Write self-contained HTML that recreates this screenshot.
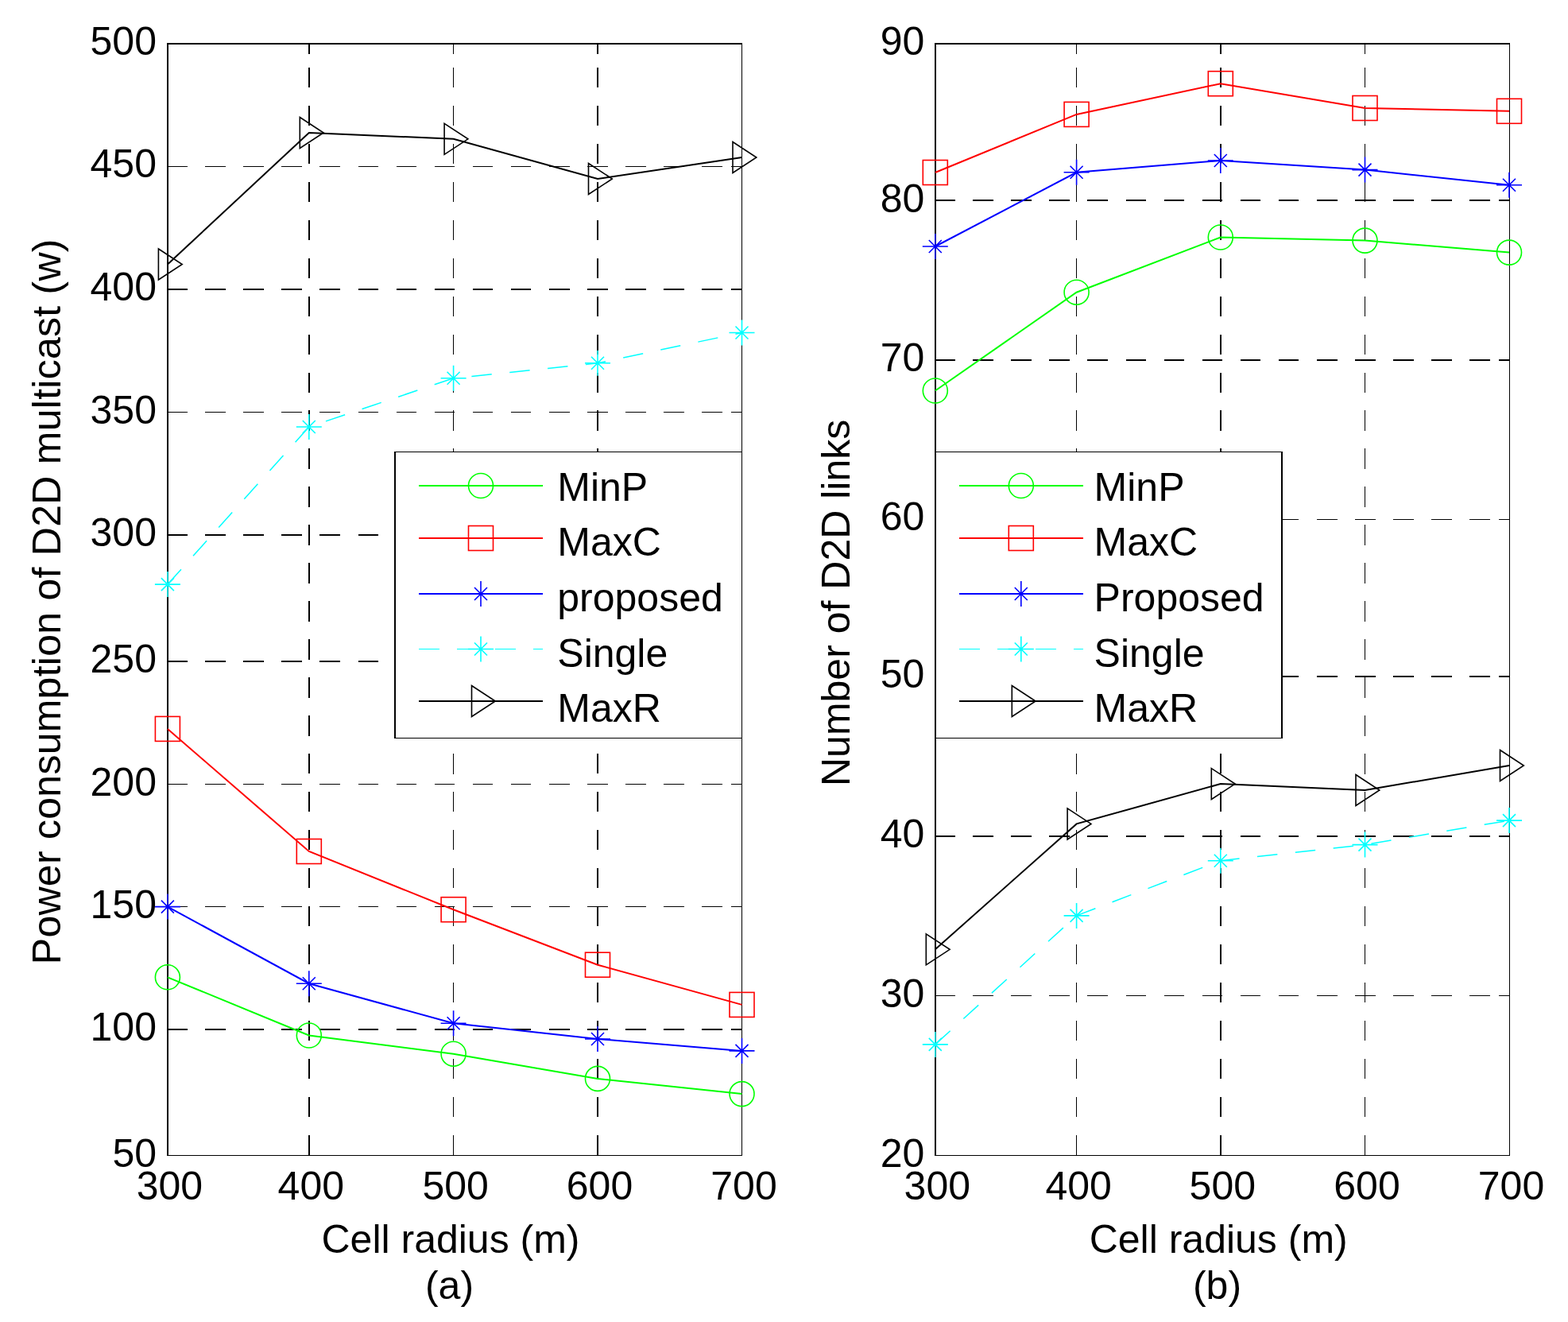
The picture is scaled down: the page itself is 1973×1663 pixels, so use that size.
<!DOCTYPE html>
<html><head><meta charset="utf-8"><title>D2D multicast figure</title>
<style>html,body{margin:0;padding:0;background:#fff;overflow:hidden;}svg{display:block;}</style>
</head><body>
<svg width="1973" height="1663" viewBox="0 0 1973 1663" font-family='"Liberation Sans", Arial, Helvetica, sans-serif' font-size="50" fill="#000">
<rect width="1973" height="1663" fill="#fff"/>
<g stroke="#000" stroke-dasharray="25.5 22.6" fill="none" shape-rendering="crispEdges"><line x1="210" y1="1295" x2="934" y2="1295" stroke-width="2"/><line x1="210" y1="1140.5" x2="934" y2="1140.5" stroke-width="1"/><line x1="210" y1="986.5" x2="934" y2="986.5" stroke-width="1"/><line x1="210" y1="832" x2="934" y2="832" stroke-width="2"/><line x1="210" y1="673" x2="934" y2="673" stroke-width="2"/><line x1="210" y1="518.5" x2="934" y2="518.5" stroke-width="1"/><line x1="210" y1="364" x2="934" y2="364" stroke-width="2"/><line x1="210" y1="209.5" x2="934" y2="209.5" stroke-width="1"/></g>
<g stroke="#000" stroke-dasharray="25.2 22.78" fill="none" shape-rendering="crispEdges"><line x1="389" y1="1453.3" x2="389" y2="54" stroke-width="2"/><line x1="570.5" y1="1453.3" x2="570.5" y2="54" stroke-width="1"/><line x1="752" y1="1453.3" x2="752" y2="54" stroke-width="2"/></g>
<g stroke="#000" fill="none" shape-rendering="crispEdges"><line x1="934" y1="1295" x2="920" y2="1295" stroke-width="2"/><line x1="934" y1="1140.5" x2="920" y2="1140.5" stroke-width="1"/><line x1="934" y1="986.5" x2="920" y2="986.5" stroke-width="1"/><line x1="934" y1="832" x2="920" y2="832" stroke-width="2"/><line x1="934" y1="673" x2="920" y2="673" stroke-width="2"/><line x1="934" y1="518.5" x2="920" y2="518.5" stroke-width="1"/><line x1="934" y1="364" x2="920" y2="364" stroke-width="2"/><line x1="934" y1="209.5" x2="920" y2="209.5" stroke-width="1"/><line x1="389" y1="54" x2="389" y2="68" stroke-width="2"/><line x1="570.5" y1="54" x2="570.5" y2="68" stroke-width="1"/><line x1="752" y1="54" x2="752" y2="68" stroke-width="2"/></g>
<g stroke="#000" fill="none" shape-rendering="crispEdges"><line x1="211" y1="54" x2="211" y2="1454" stroke-width="2"/><line x1="933.5" y1="54" x2="933.5" y2="1454" stroke-width="1"/><line x1="210" y1="55" x2="934" y2="55" stroke-width="2"/><line x1="210" y1="1453.5" x2="934" y2="1453.5" stroke-width="1"/></g>
<polyline points="210.9,1229.3 388.8,1302.5 570.6,1325.7 752,1356.9 933.5,1376.1" fill="none" stroke="#00ff00" stroke-width="2.0"/>
<circle cx="210.9" cy="1229.3" r="15.5" fill="none" stroke="#00ff00" stroke-width="1.6"/>
<circle cx="388.8" cy="1302.5" r="15.5" fill="none" stroke="#00ff00" stroke-width="1.6"/>
<circle cx="570.6" cy="1325.7" r="15.5" fill="none" stroke="#00ff00" stroke-width="1.6"/>
<circle cx="752" cy="1356.9" r="15.5" fill="none" stroke="#00ff00" stroke-width="1.6"/>
<circle cx="933.5" cy="1376.1" r="15.5" fill="none" stroke="#00ff00" stroke-width="1.6"/>
<polyline points="210.9,916.9 388.8,1071 570.6,1144.2 752,1213.7 933.5,1263.9" fill="none" stroke="#ff0000" stroke-width="2.0"/>
<rect x="195.4" y="901.4" width="31" height="31" fill="none" stroke="#ff0000" stroke-width="1.6"/>
<rect x="373.3" y="1055.5" width="31" height="31" fill="none" stroke="#ff0000" stroke-width="1.6"/>
<rect x="555.1" y="1128.7" width="31" height="31" fill="none" stroke="#ff0000" stroke-width="1.6"/>
<rect x="736.5" y="1198.2" width="31" height="31" fill="none" stroke="#ff0000" stroke-width="1.6"/>
<rect x="918" y="1248.4" width="31" height="31" fill="none" stroke="#ff0000" stroke-width="1.6"/>
<polyline points="210.9,1140.6 388.8,1237.2 570.6,1287.3 752,1307 933.5,1321.9" fill="none" stroke="#0000ff" stroke-width="2.0"/>
<path d="M210.9 1124.6V1156.6M194.9 1140.6H226.9M202.9 1132.6L218.9 1148.6M202.9 1148.6L218.9 1132.6" fill="none" stroke="#0000ff" stroke-width="1.6"/>
<path d="M388.8 1221.2V1253.2M372.8 1237.2H404.8M380.8 1229.2L396.8 1245.2M380.8 1245.2L396.8 1229.2" fill="none" stroke="#0000ff" stroke-width="1.6"/>
<path d="M570.6 1271.3V1303.3M554.6 1287.3H586.6M562.6 1279.3L578.6 1295.3M562.6 1295.3L578.6 1279.3" fill="none" stroke="#0000ff" stroke-width="1.6"/>
<path d="M752 1291V1323M736 1307H768M744 1299L760 1315M744 1315L760 1299" fill="none" stroke="#0000ff" stroke-width="1.6"/>
<path d="M933.5 1305.9V1337.9M917.5 1321.9H949.5M925.5 1313.9L941.5 1329.9M925.5 1329.9L941.5 1313.9" fill="none" stroke="#0000ff" stroke-width="1.6"/>
<polyline points="210.9,735.1 388.8,537 570.6,475.8 752,456.8 933.5,418.5" fill="none" stroke="#00ffff" stroke-width="1.5" stroke-dasharray="25.5 22.6"/>
<path d="M210.9 719.1V751.1M194.9 735.1H226.9M202.9 727.1L218.9 743.1M202.9 743.1L218.9 727.1" fill="none" stroke="#00ffff" stroke-width="1.6"/>
<path d="M388.8 521V553M372.8 537H404.8M380.8 529L396.8 545M380.8 545L396.8 529" fill="none" stroke="#00ffff" stroke-width="1.6"/>
<path d="M570.6 459.8V491.8M554.6 475.8H586.6M562.6 467.8L578.6 483.8M562.6 483.8L578.6 467.8" fill="none" stroke="#00ffff" stroke-width="1.6"/>
<path d="M752 440.8V472.8M736 456.8H768M744 448.8L760 464.8M744 464.8L760 448.8" fill="none" stroke="#00ffff" stroke-width="1.6"/>
<path d="M933.5 402.5V434.5M917.5 418.5H949.5M925.5 410.5L941.5 426.5M925.5 426.5L941.5 410.5" fill="none" stroke="#00ffff" stroke-width="1.6"/>
<polyline points="210.9,332.5 388.8,167 570.6,174.8 752,225 933.5,198" fill="none" stroke="#000000" stroke-width="2.0"/>
<path d="M199.4 313L229.2 332.5L199.4 352Z" fill="none" stroke="#000000" stroke-width="1.6" stroke-linejoin="miter"/>
<path d="M377.3 147.5L407.1 167L377.3 186.5Z" fill="none" stroke="#000000" stroke-width="1.6" stroke-linejoin="miter"/>
<path d="M559.1 155.3L588.9 174.8L559.1 194.3Z" fill="none" stroke="#000000" stroke-width="1.6" stroke-linejoin="miter"/>
<path d="M740.5 205.5L770.3 225L740.5 244.5Z" fill="none" stroke="#000000" stroke-width="1.6" stroke-linejoin="miter"/>
<path d="M922 178.5L951.8 198L922 217.5Z" fill="none" stroke="#000000" stroke-width="1.6" stroke-linejoin="miter"/>
<text x="197" y="1467.6" text-anchor="end">50</text>
<text x="197" y="1309.1" text-anchor="end">100</text>
<text x="197" y="1154.8" text-anchor="end">150</text>
<text x="197" y="1000.5" text-anchor="end">200</text>
<text x="197" y="845.7" text-anchor="end">250</text>
<text x="197" y="687.1" text-anchor="end">300</text>
<text x="197" y="532.7" text-anchor="end">350</text>
<text x="197" y="378" text-anchor="end">400</text>
<text x="197" y="223.2" text-anchor="end">450</text>
<text x="197" y="69" text-anchor="end">500</text>
<text x="213.4" y="1509.1" text-anchor="middle">300</text>
<text x="391.3" y="1509.1" text-anchor="middle">400</text>
<text x="573.1" y="1509.1" text-anchor="middle">500</text>
<text x="754.5" y="1509.1" text-anchor="middle">600</text>
<text x="936" y="1509.1" text-anchor="middle">700</text>
<text x="567" y="1576.3" text-anchor="middle">Cell radius (m)</text>
<text x="565.5" y="1633.5" text-anchor="middle">(a)</text>
<text transform="translate(76,756.7) rotate(-90)" x="0" y="0" text-anchor="middle" letter-spacing="0.26">Power consumption of D2D multicast (w)</text>
<rect x="496" y="568" width="438" height="361" fill="#fff"/>
<g stroke="#000" fill="none" shape-rendering="crispEdges"><line x1="497" y1="568" x2="497" y2="929" stroke-width="2"/><line x1="933.5" y1="568" x2="933.5" y2="929" stroke-width="1"/><line x1="496" y1="568.5" x2="934" y2="568.5" stroke-width="1"/><line x1="496" y1="928.5" x2="934" y2="928.5" stroke-width="1"/></g>
<line x1="527" y1="611" x2="683" y2="611" stroke="#00ff00" stroke-width="2.0" shape-rendering="crispEdges"/>
<circle cx="605" cy="611" r="15.5" fill="none" stroke="#00ff00" stroke-width="1.6"/>
<text x="701.3" y="629.9">MinP</text>
<line x1="527" y1="677" x2="683" y2="677" stroke="#ff0000" stroke-width="2.0" shape-rendering="crispEdges"/>
<rect x="589.5" y="661.5" width="31" height="31" fill="none" stroke="#ff0000" stroke-width="1.6"/>
<text x="701.3" y="699.1">MaxC</text>
<line x1="527" y1="747" x2="683" y2="747" stroke="#0000ff" stroke-width="2.0" shape-rendering="crispEdges"/>
<path d="M605 731V763M589 747H621M597 739L613 755M597 755L613 739" fill="none" stroke="#0000ff" stroke-width="1.6"/>
<text x="701.3" y="768.9">proposed</text>
<line x1="527" y1="816.5" x2="683" y2="816.5" stroke="#00ffff" stroke-width="1.5" stroke-dasharray="25.5 22.6" shape-rendering="crispEdges"/>
<path d="M605 800.5V832.5M589 816.5H621M597 808.5L613 824.5M597 824.5L613 808.5" fill="none" stroke="#00ffff" stroke-width="1.6"/>
<text x="701.3" y="838.5">Single</text>
<line x1="527" y1="882" x2="683" y2="882" stroke="#000000" stroke-width="2.0" shape-rendering="crispEdges"/>
<path d="M593.5 862.5L623.3 882L593.5 901.5Z" fill="none" stroke="#000000" stroke-width="1.6" stroke-linejoin="miter"/>
<text x="701.3" y="907.5">MaxR</text>
<g stroke="#000" stroke-dasharray="25.5 22.6" fill="none" shape-rendering="crispEdges"><line x1="1176" y1="1252.5" x2="1900" y2="1252.5" stroke-width="1"/><line x1="1176" y1="1052" x2="1900" y2="1052" stroke-width="2"/><line x1="1176" y1="851" x2="1900" y2="851" stroke-width="2"/><line x1="1176" y1="653.5" x2="1900" y2="653.5" stroke-width="1"/><line x1="1176" y1="453" x2="1900" y2="453" stroke-width="2"/><line x1="1176" y1="252" x2="1900" y2="252" stroke-width="2"/></g>
<g stroke="#000" stroke-dasharray="25.2 22.78" fill="none" shape-rendering="crispEdges"><line x1="1354.5" y1="1453.3" x2="1354.5" y2="54" stroke-width="1"/><line x1="1536" y1="1453.3" x2="1536" y2="54" stroke-width="2"/><line x1="1717.5" y1="1453.3" x2="1717.5" y2="54" stroke-width="1"/></g>
<g stroke="#000" fill="none" shape-rendering="crispEdges"><line x1="1900" y1="1252.5" x2="1886" y2="1252.5" stroke-width="1"/><line x1="1900" y1="1052" x2="1886" y2="1052" stroke-width="2"/><line x1="1900" y1="851" x2="1886" y2="851" stroke-width="2"/><line x1="1900" y1="653.5" x2="1886" y2="653.5" stroke-width="1"/><line x1="1900" y1="453" x2="1886" y2="453" stroke-width="2"/><line x1="1900" y1="252" x2="1886" y2="252" stroke-width="2"/><line x1="1354.5" y1="54" x2="1354.5" y2="68" stroke-width="1"/><line x1="1536" y1="54" x2="1536" y2="68" stroke-width="2"/><line x1="1717.5" y1="54" x2="1717.5" y2="68" stroke-width="1"/></g>
<g stroke="#000" fill="none" shape-rendering="crispEdges"><line x1="1177" y1="54" x2="1177" y2="1454" stroke-width="2"/><line x1="1899.5" y1="54" x2="1899.5" y2="1454" stroke-width="1"/><line x1="1176" y1="55" x2="1900" y2="55" stroke-width="2"/><line x1="1176" y1="1453.5" x2="1900" y2="1453.5" stroke-width="1"/></g>
<polyline points="1176.8,491.5 1354.6,367.7 1535.8,298.5 1717.5,302.6 1899,317.6" fill="none" stroke="#00ff00" stroke-width="2.0"/>
<circle cx="1176.8" cy="491.5" r="15.5" fill="none" stroke="#00ff00" stroke-width="1.6"/>
<circle cx="1354.6" cy="367.7" r="15.5" fill="none" stroke="#00ff00" stroke-width="1.6"/>
<circle cx="1535.8" cy="298.5" r="15.5" fill="none" stroke="#00ff00" stroke-width="1.6"/>
<circle cx="1717.5" cy="302.6" r="15.5" fill="none" stroke="#00ff00" stroke-width="1.6"/>
<circle cx="1899" cy="317.6" r="15.5" fill="none" stroke="#00ff00" stroke-width="1.6"/>
<polyline points="1176.8,217 1354.6,143.9 1535.8,105.2 1717.5,136 1899,139.8" fill="none" stroke="#ff0000" stroke-width="2.0"/>
<rect x="1161.3" y="201.5" width="31" height="31" fill="none" stroke="#ff0000" stroke-width="1.6"/>
<rect x="1339.1" y="128.4" width="31" height="31" fill="none" stroke="#ff0000" stroke-width="1.6"/>
<rect x="1520.3" y="89.7" width="31" height="31" fill="none" stroke="#ff0000" stroke-width="1.6"/>
<rect x="1702" y="120.5" width="31" height="31" fill="none" stroke="#ff0000" stroke-width="1.6"/>
<rect x="1883.5" y="124.3" width="31" height="31" fill="none" stroke="#ff0000" stroke-width="1.6"/>
<polyline points="1176.8,310 1354.6,216.8 1535.8,202 1717.5,213.6 1899,232.8" fill="none" stroke="#0000ff" stroke-width="2.0"/>
<path d="M1176.8 294V326M1160.8 310H1192.8M1168.8 302L1184.8 318M1168.8 318L1184.8 302" fill="none" stroke="#0000ff" stroke-width="1.6"/>
<path d="M1354.6 200.8V232.8M1338.6 216.8H1370.6M1346.6 208.8L1362.6 224.8M1346.6 224.8L1362.6 208.8" fill="none" stroke="#0000ff" stroke-width="1.6"/>
<path d="M1535.8 186V218M1519.8 202H1551.8M1527.8 194L1543.8 210M1527.8 210L1543.8 194" fill="none" stroke="#0000ff" stroke-width="1.6"/>
<path d="M1717.5 197.6V229.6M1701.5 213.6H1733.5M1709.5 205.6L1725.5 221.6M1709.5 221.6L1725.5 205.6" fill="none" stroke="#0000ff" stroke-width="1.6"/>
<path d="M1899 216.8V248.8M1883 232.8H1915M1891 224.8L1907 240.8M1891 240.8L1907 224.8" fill="none" stroke="#0000ff" stroke-width="1.6"/>
<polyline points="1176.8,1313.9 1354.6,1151.9 1535.8,1082.7 1717.5,1062.6 1899,1032.1" fill="none" stroke="#00ffff" stroke-width="1.5" stroke-dasharray="25.5 22.6"/>
<path d="M1176.8 1297.9V1329.9M1160.8 1313.9H1192.8M1168.8 1305.9L1184.8 1321.9M1168.8 1321.9L1184.8 1305.9" fill="none" stroke="#00ffff" stroke-width="1.6"/>
<path d="M1354.6 1135.9V1167.9M1338.6 1151.9H1370.6M1346.6 1143.9L1362.6 1159.9M1346.6 1159.9L1362.6 1143.9" fill="none" stroke="#00ffff" stroke-width="1.6"/>
<path d="M1535.8 1066.7V1098.7M1519.8 1082.7H1551.8M1527.8 1074.7L1543.8 1090.7M1527.8 1090.7L1543.8 1074.7" fill="none" stroke="#00ffff" stroke-width="1.6"/>
<path d="M1717.5 1046.6V1078.6M1701.5 1062.6H1733.5M1709.5 1054.6L1725.5 1070.6M1709.5 1070.6L1725.5 1054.6" fill="none" stroke="#00ffff" stroke-width="1.6"/>
<path d="M1899 1016.1V1048.1M1883 1032.1H1915M1891 1024.1L1907 1040.1M1891 1040.1L1907 1024.1" fill="none" stroke="#00ffff" stroke-width="1.6"/>
<polyline points="1176.8,1194.3 1354.6,1036.4 1535.8,986.1 1717.5,994 1899,963" fill="none" stroke="#000000" stroke-width="2.0"/>
<path d="M1165.3 1174.8L1195.1 1194.3L1165.3 1213.8Z" fill="none" stroke="#000000" stroke-width="1.6" stroke-linejoin="miter"/>
<path d="M1343.1 1016.9L1372.9 1036.4L1343.1 1055.9Z" fill="none" stroke="#000000" stroke-width="1.6" stroke-linejoin="miter"/>
<path d="M1524.3 966.6L1554.1 986.1L1524.3 1005.6Z" fill="none" stroke="#000000" stroke-width="1.6" stroke-linejoin="miter"/>
<path d="M1706 974.5L1735.8 994L1706 1013.5Z" fill="none" stroke="#000000" stroke-width="1.6" stroke-linejoin="miter"/>
<path d="M1887.5 943.5L1917.3 963L1887.5 982.5Z" fill="none" stroke="#000000" stroke-width="1.6" stroke-linejoin="miter"/>
<text x="1163.3" y="1467.6" text-anchor="end">20</text>
<text x="1163.3" y="1266.9" text-anchor="end">30</text>
<text x="1163.3" y="1066" text-anchor="end">40</text>
<text x="1163.3" y="865.2" text-anchor="end">50</text>
<text x="1163.3" y="667.4" text-anchor="end">60</text>
<text x="1163.3" y="466.9" text-anchor="end">70</text>
<text x="1163.3" y="266.5" text-anchor="end">80</text>
<text x="1163.3" y="69" text-anchor="end">90</text>
<text x="1179.3" y="1509.1" text-anchor="middle">300</text>
<text x="1357.1" y="1509.1" text-anchor="middle">400</text>
<text x="1538.3" y="1509.1" text-anchor="middle">500</text>
<text x="1720" y="1509.1" text-anchor="middle">600</text>
<text x="1901.5" y="1509.1" text-anchor="middle">700</text>
<text x="1533.2" y="1576.3" text-anchor="middle">Cell radius (m)</text>
<text x="1531.5" y="1633.5" text-anchor="middle">(b)</text>
<text transform="translate(1069,758.4) rotate(-90)" x="0" y="0" text-anchor="middle">Number of D2D links</text>
<rect x="1176" y="568" width="438" height="361" fill="#fff"/>
<g stroke="#000" fill="none" shape-rendering="crispEdges"><line x1="1177" y1="568" x2="1177" y2="929" stroke-width="2"/><line x1="1613" y1="568" x2="1613" y2="929" stroke-width="2"/><line x1="1176" y1="568.5" x2="1614" y2="568.5" stroke-width="1"/><line x1="1176" y1="928.5" x2="1614" y2="928.5" stroke-width="1"/></g>
<line x1="1207" y1="611" x2="1363" y2="611" stroke="#00ff00" stroke-width="2.0" shape-rendering="crispEdges"/>
<circle cx="1284.8" cy="611" r="15.5" fill="none" stroke="#00ff00" stroke-width="1.6"/>
<text x="1376.6" y="629.9">MinP</text>
<line x1="1207" y1="677" x2="1363" y2="677" stroke="#ff0000" stroke-width="2.0" shape-rendering="crispEdges"/>
<rect x="1269.3" y="661.5" width="31" height="31" fill="none" stroke="#ff0000" stroke-width="1.6"/>
<text x="1376.6" y="699.1">MaxC</text>
<line x1="1207" y1="747" x2="1363" y2="747" stroke="#0000ff" stroke-width="2.0" shape-rendering="crispEdges"/>
<path d="M1284.8 731V763M1268.8 747H1300.8M1276.8 739L1292.8 755M1276.8 755L1292.8 739" fill="none" stroke="#0000ff" stroke-width="1.6"/>
<text x="1376.6" y="768.9">Proposed</text>
<line x1="1207" y1="816.5" x2="1363" y2="816.5" stroke="#00ffff" stroke-width="1.5" stroke-dasharray="25.5 22.6" shape-rendering="crispEdges"/>
<path d="M1284.8 800.5V832.5M1268.8 816.5H1300.8M1276.8 808.5L1292.8 824.5M1276.8 824.5L1292.8 808.5" fill="none" stroke="#00ffff" stroke-width="1.6"/>
<text x="1376.6" y="838.5">Single</text>
<line x1="1207" y1="882" x2="1363" y2="882" stroke="#000000" stroke-width="2.0" shape-rendering="crispEdges"/>
<path d="M1273.3 862.5L1303.1 882L1273.3 901.5Z" fill="none" stroke="#000000" stroke-width="1.6" stroke-linejoin="miter"/>
<text x="1376.6" y="907.5">MaxR</text>
</svg>
</body></html>
